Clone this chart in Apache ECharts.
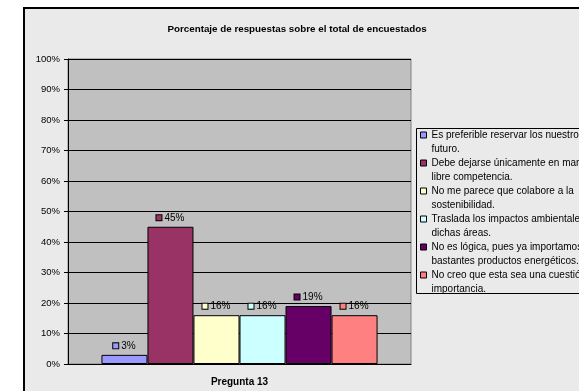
<!DOCTYPE html>
<html>
<head>
<meta charset="utf-8">
<script src="https://cdn.jsdelivr.net/npm/echarts@6/dist/echarts.min.js"></script>
<style>
  html, body { margin: 0; padding: 0; background: #ffffff; }
  #chart { width: 579px; height: 391px; }
</style>
</head>
<body>
<div id="chart"></div>
<script>
// Survey question 13: share of answers per option
const categories = ['Pregunta 13'];
const answers = [
  'Es preferible reservar los nuestros recursos\nfuturo.',
  'Debe dejarse únicamente en manos de la\nlibre competencia.',
  'No me parece que colabore a la\nsostenibilidad.',
  'Traslada los impactos ambientales a\ndichas áreas.',
  'No es lógica, pues ya importamos\nbastantes productos energéticos.',
  'No creo que esta sea una cuestión de\nimportancia.'
];
const percents = [3, 45, 16, 16, 19, 16];
const colors = ['#9999FF', '#993366', '#FFFFCC', '#CCFFFF', '#660066', '#FF8080'];
const yTicks = { min: 0, max: 100, interval: 10 };

const FONT = '"Liberation Sans", Arial, sans-serif';

const series = answers.map((name, i) => ({
  name: name,
  type: 'bar',
  data: [percents[i]],
  itemStyle: { color: colors[i], borderColor: '#000000', borderWidth: 1 },
  barGap: '0%',
  barCategoryGap: '19.5%',
  label: {
    show: true,
    position: 'top',
    distance: 4,
    formatter: p => '{k|}{t|' + p.value + '%}',
    rich: {
      k: { width: 5, height: 5, backgroundColor: colors[i], borderColor: '#000000', borderWidth: 1 },
      t: { fontSize: 10, fontFamily: FONT, color: '#000000', padding: [0, 0, 0, 3] }
    }
  }
}));

const chart = echarts.init(document.getElementById('chart'), null, { renderer: 'canvas' });
chart.setOption({
  backgroundColor: '#ffffff',
  animation: false,
  graphic: [
    {
      type: 'rect', z: -10, silent: true,
      shape: { x: 24, y: 8, width: 600, height: 420 },
      style: { fill: '#eaeaea', stroke: '#000000', lineWidth: 2 }
    },
    {
      type: 'rect', z: -5, silent: true,
      shape: { x: 416.5, y: 128.5, width: 200, height: 165 },
      style: { fill: '#eaeaea', stroke: '#000000', lineWidth: 1 }
    }
  ],
  title: {
    text: 'Porcentaje de respuestas sobre el total de encuestados',
    left: 292, top: 19, textAlign: 'center',
    textStyle: { fontSize: 9.8, fontWeight: 'bold', fontFamily: FONT, color: '#000000' }
  },
  legend: {
    orient: 'vertical',
    left: 420, top: 114,
    padding: 0,
    itemGap: -14,
    itemWidth: 6, itemHeight: 6,
    icon: 'rect',
    itemStyle: { borderColor: '#000000', borderWidth: 1 },
    // a blank first line keeps the key beside the first line of each entry
    formatter: name => '\n' + name,
    textStyle: { fontSize: 10, fontFamily: FONT, color: '#000000', lineHeight: 14 },
    data: answers
  },
  grid: {
    left: 68, right: 168, top: 59, bottom: 27,
    show: true, backgroundColor: '#c0c0c0', borderColor: '#808080', borderWidth: 1
  },
  xAxis: {
    type: 'category',
    data: categories,
    axisLine: { lineStyle: { color: '#000000', width: 1 } },
    axisTick: { show: false },
    axisLabel: { margin: 13, fontSize: 10, fontWeight: 'bold', fontFamily: FONT, color: '#000000' }
  },
  yAxis: {
    type: 'value',
    min: yTicks.min, max: yTicks.max, interval: yTicks.interval,
    axisLine: { show: true, lineStyle: { color: '#000000', width: 1 } },
    axisTick: { show: true, length: 4, lineStyle: { color: '#000000' } },
    axisLabel: { formatter: '{value}%', margin: 8, fontSize: 9.5, fontFamily: FONT, color: '#000000' },
    splitLine: { show: true, lineStyle: { color: '#000000', width: 1 } }
  },
  series: series
});
</script>
</body>
</html>
